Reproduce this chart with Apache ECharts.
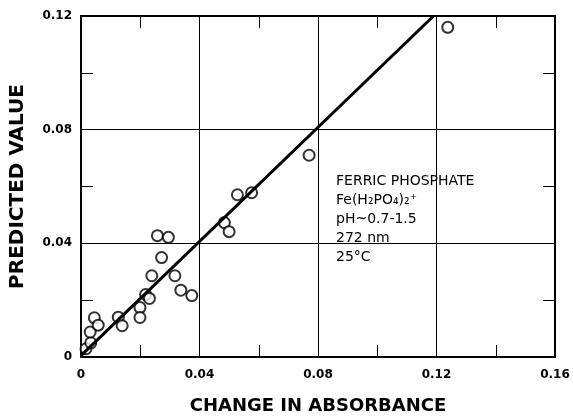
<!DOCTYPE html>
<html>
<head>
<meta charset="utf-8">
<script src="https://cdn.jsdelivr.net/npm/echarts@6/dist/echarts.min.js"></script>
<style>
  html, body { margin: 0; padding: 0; background: #fff; }
  #chart { width: 573px; height: 420px; }
</style>
</head>
<body>
<div id="chart"></div>
<script>
// measured points: change in absorbance vs predicted value
const absorbance = [0.0017, 0.0033, 0.0031, 0.0045, 0.0058, 0.0126, 0.0139, 0.0199, 0.0199,
  0.0218, 0.0231, 0.0239, 0.0272, 0.0258, 0.0295, 0.0317, 0.0337, 0.0374,
  0.0484, 0.0500, 0.0528, 0.0576, 0.0770, 0.1238]
const predicted = [0.0029, 0.0050, 0.0088, 0.0138, 0.0112, 0.0140, 0.0110, 0.0174, 0.0139,
  0.0220, 0.0206, 0.0286, 0.0350, 0.0427, 0.0421, 0.0286, 0.0235, 0.0216,
  0.0473, 0.0441, 0.0571, 0.0578, 0.0710, 0.1160]

// fitted line end points
const fitX = [0, 0.119]
const fitY = [0.0005, 0.12]

const xTicks = [0, 0.04, 0.08, 0.12, 0.16]
const yTicks = [0, 0.04, 0.08, 0.12]

const notes = ['FERRIC PHOSPHATE', 'Fe(H₂PO₄)₂⁺', 'pH~0.7-1.5', '272 nm', '25°C']

const tickLabel = v => (v === 0 ? '0' : v.toFixed(2))

const chart = echarts.init(document.getElementById('chart'))

const lineStyle = { color: '#000', width: 2 }
const labelStyle = {
  color: '#000',
  fontFamily: 'DejaVu Sans',
  fontSize: 12,
  fontWeight: 'bold',
  formatter: tickLabel
}

const baseAxis = {
  min: 0,
  interval: 0.04,
  axisLine: { show: true, onZero: false, lineStyle },
  axisTick: { show: true, inside: true, length: 12, lineStyle: { color: '#000', width: 1 } },
  minorTick: { show: true, splitNumber: 2, length: 12, lineStyle: { color: '#000', width: 1 } }
}

const option = {
  animation: false,
  backgroundColor: '#fff',
  grid: { left: 81, right: 18, top: 16, bottom: 59 },
  xAxis: [
    {
      ...baseAxis,
      type: 'value',
      max: xTicks[xTicks.length - 1],
      position: 'bottom',
      name: 'CHANGE IN ABSORBANCE',
      nameLocation: 'middle',
      nameGap: 40,
      nameTextStyle: { color: '#000', fontFamily: 'DejaVu Sans', fontSize: 18, fontWeight: 'bold' },
      axisLabel: { ...labelStyle, margin: 12 },
      splitLine: { show: true, lineStyle: { color: '#000', width: 1 } }
    },
    {
      ...baseAxis,
      type: 'value',
      max: xTicks[xTicks.length - 1],
      position: 'top',
      axisLabel: { show: false },
      splitLine: { show: false }
    }
  ],
  yAxis: [
    {
      ...baseAxis,
      type: 'value',
      max: yTicks[yTicks.length - 1],
      position: 'left',
      name: 'PREDICTED VALUE',
      nameLocation: 'middle',
      nameGap: 53,
      nameTextStyle: { color: '#000', fontFamily: 'DejaVu Sans', fontSize: 20, fontWeight: 'bold' },
      axisLabel: { ...labelStyle, margin: 9 },
      splitLine: { show: true, lineStyle: { color: '#000', width: 1 } }
    },
    {
      ...baseAxis,
      type: 'value',
      max: yTicks[yTicks.length - 1],
      position: 'right',
      axisLabel: { show: false },
      splitLine: { show: false }
    }
  ],
  graphic: notes.map((t, i) => ({
    type: 'text',
    left: 336,
    top: 174 + i * 19,
    style: { text: t, fill: '#000', font: '14px "DejaVu Sans"' }
  })),
  series: [
    {
      type: 'scatter',
      data: absorbance.map((x, i) => [x, predicted[i]]),
      symbol: 'circle',
      symbolSize: 11,
      itemStyle: { color: '#fff', borderColor: '#000', borderWidth: 2 },
      z: 2
    },
    {
      type: 'line',
      data: fitX.map((x, i) => [x, fitY[i]]),
      showSymbol: false,
      lineStyle: { color: '#000', width: 3 },
      z: 3
    }
  ]
}

chart.setOption(option)
</script>
</body>
</html>
